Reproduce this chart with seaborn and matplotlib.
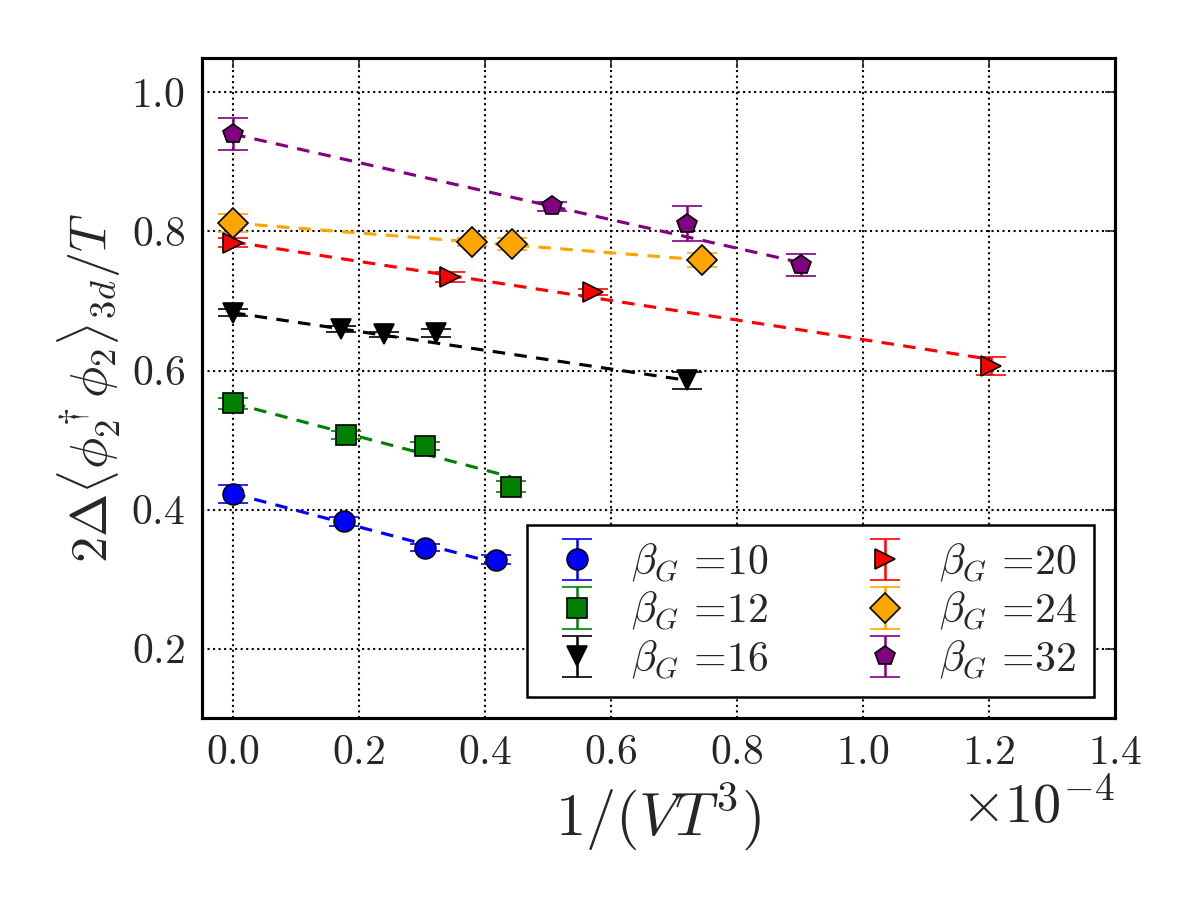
import numpy as np
import matplotlib
matplotlib.use("Agg")
import matplotlib.pyplot as plt
import seaborn as sns

# data (x in units of 1/(V T^3))
x10 = [0.0, 0.176e-4, 0.304e-4, 0.417e-4]
y10 = [0.423, 0.383, 0.345, 0.328]
e10 = [0.013, 0.006, 0.005, 0.006]

x12 = [0.0, 0.179e-4, 0.304e-4, 0.441e-4]
y12 = [0.553, 0.507, 0.491, 0.433]
e12 = [0.008, 0.006, 0.006, 0.008]

x16 = [0.0, 0.171e-4, 0.240e-4, 0.322e-4, 0.720e-4]
y16 = [0.683, 0.660, 0.652, 0.654, 0.586]
e16 = [0.005, 0.004, 0.004, 0.006, 0.012]

x20 = [0.0, 0.345e-4, 0.572e-4, 1.203e-4]
y20 = [0.784, 0.734, 0.713, 0.606]
e20 = [0.007, 0.007, 0.004, 0.013]

x24 = [0.0, 0.380e-4, 0.443e-4, 0.745e-4]
y24 = [0.8125, 0.785, 0.782, 0.759]
e24 = [0.013, 0.006, 0.008, 0.010]

x32 = [0.0, 0.506e-4, 0.720e-4, 0.902e-4]
y32 = [0.940, 0.836, 0.811, 0.752]
e32 = [0.023, 0.006, 0.025, 0.016]

# fitted lines: value at x=0 and at the largest x of each set
fit_start = [0.423, 0.553, 0.683, 0.785, 0.812, 0.940]
fit_end = [0.323, 0.447, 0.586, 0.616, 0.759, 0.755]

betas = ["10", "12", "16", "20", "24", "32"]
colors = ["blue", "green", "black", "red", "orange", "purple"]
markers = ["o", "s", "v", ">", "D", "p"]

sns.set_style("white")
plt.rcParams["font.family"] = "serif"
plt.rcParams["font.serif"] = ["cmr10", "DejaVu Serif"]
plt.rcParams["mathtext.fontset"] = "cm"
plt.rcParams["axes.formatter.use_mathtext"] = True
plt.rcParams["axes.unicode_minus"] = False

fig = plt.figure(figsize=(8, 6), dpi=150)
ax = fig.add_axes([0.168, 0.202, 0.761, 0.734])

xs = [x10, x12, x16, x20, x24, x32]
ys = [y10, y12, y16, y20, y24, y32]
es = [e10, e12, e16, e20, e24, e32]

for i in range(6):
    sns.lineplot(x=[0.0, max(xs[i])], y=[fit_start[i], fit_end[i]], ax=ax,
                 color=colors[i], linestyle=(0, (4, 3)), linewidth=1.5, zorder=2)

for i in range(6):
    ax.errorbar(xs[i], ys[i], yerr=es[i], fmt=markers[i], color=colors[i],
                markerfacecolor=colors[i], markeredgecolor="black", markeredgewidth=0.8,
                markersize=10, capsize=7, elinewidth=1.2, capthick=1.2, zorder=3,
                label=r"$\beta_G$ =" + r"$\mathbf{" + betas[i] + "}$")

ax.set_xlim(-0.05e-4, 1.4e-4)
ax.set_ylim(0.1, 1.05)
ax.set_xticks(np.arange(0, 1.41e-4, 0.2e-4))
ax.set_yticks([0.2, 0.4, 0.6, 0.8, 1.0])
ax.ticklabel_format(style="sci", axis="x", scilimits=(0, 0), useMathText=True)
ax.grid(True, color="black", linestyle=":", linewidth=1)
ax.tick_params(direction="in", length=5, width=0.8, top=True, right=True,
               labelsize=20, pad=8)
for s in ax.spines.values():
    s.set_linewidth(1.5)
    s.set_color("black")
ax.xaxis.get_offset_text().set_fontsize(27)

ax.set_xlabel(r"$1/(VT^3)$", fontsize=29)
ax.set_ylabel(r"$2\Delta\langle\phi_2^\dagger\phi_2\rangle_{3d}/T$", fontsize=25)

handles, labels = ax.get_legend_handles_labels()
leg = ax.legend(handles, labels, loc="lower right", ncol=2, numpoints=1,
                fontsize=20, frameon=True, fancybox=False, framealpha=1,
                edgecolor="black", handlelength=1.6, handletextpad=0.5,
                columnspacing=2.0, labelspacing=0.15)
leg.get_frame().set_linewidth(1.2)

fig.savefig("out.png", dpi=150)
